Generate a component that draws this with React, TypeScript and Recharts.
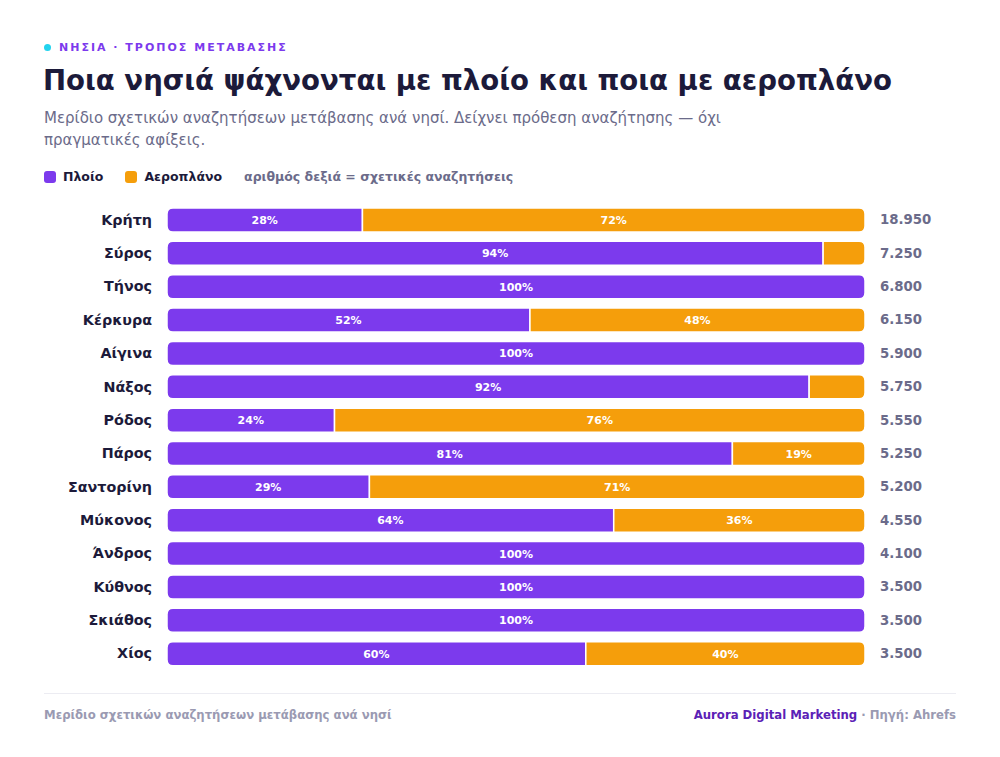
import React from "react";
import { BarChart, Bar, XAxis, YAxis, LabelList } from "recharts";

// island names, boat share %, plane share %, relative searches
const islands = ["Κρήτη", "Σύρος", "Τήνος", "Κέρκυρα", "Αίγινα", "Νάξος", "Ρόδος", "Πάρος", "Σαντορίνη", "Μύκονος", "Άνδρος", "Κύθνος", "Σκιάθος", "Χίος"];
const boatShare = [28, 94, 100, 52, 100, 92, 24, 81, 29, 64, 100, 100, 100, 60];
const planeShare = [72, 6, 0, 48, 0, 8, 76, 19, 71, 36, 0, 0, 0, 40];
const searches = ["18.950", "7.250", "6.800", "6.150", "5.900", "5.750", "5.550", "5.250", "5.200", "4.550", "4.100", "3.500", "3.500", "3.500"];

const PURPLE = "#7c3aed";
const ORANGE = "#f59e0b";
const FONT = "'DejaVu Sans', sans-serif";

const data = islands.map((name, i) => ({
  name,
  boat: boatShare[i],
  plane: planeShare[i],
  total: searches[i],
}));

function roundedPath(x: number, y: number, w: number, h: number, rl: number, rr: number) {
  return `M${x + rl},${y} L${x + w - rr},${y} Q${x + w},${y} ${x + w},${y + rr} L${x + w},${y + h - rr} Q${x + w},${y + h} ${x + w - rr},${y + h} L${x + rl},${y + h} Q${x},${y + h} ${x},${y + h - rl} L${x},${y + rl} Q${x},${y} ${x + rl},${y} Z`;
}

function Segment(props: any) {
  const { x, y, width, height, fill, payload, dataKey } = props;
  if (!width || width <= 0) return null;
  const r = 6;
  const isBoat = dataKey === "boat";
  const rl = isBoat ? r : payload.boat === 0 ? r : 0;
  const rr = isBoat ? (payload.plane === 0 ? r : 0) : r;
  return <path d={roundedPath(x, y, width, height, rl, rr)} fill={fill} stroke="#fff" strokeWidth={1.5} />;
}

function PctLabel(props: any) {
  const { x, y, width, height, value } = props;
  if (value < 10) return null;
  return (
    <text x={x + width / 2} y={y + height / 2 + 4} textAnchor="middle" fill="#fff" fontSize={11} fontWeight={700} fontFamily={FONT}>
      {value}%
    </text>
  );
}

export default function App() {
  return (
    <div style={{ position: "absolute", left: 0, top: 0, width: 1000, height: 757, background: "#fff", fontFamily: FONT }}>
      <div style={{ position: "absolute", left: 44, top: 41, fontSize: 11, fontWeight: 700, letterSpacing: 2, color: PURPLE, display: "flex", alignItems: "center" }}>
        <span style={{ width: 7, height: 7, borderRadius: 4, background: "#22d3ee", marginRight: 8 }} />
        ΝΗΣΙΑ · ΤΡΟΠΟΣ ΜΕΤΑΒΑΣΗΣ
      </div>
      <div style={{ position: "absolute", left: 43, top: 64, fontSize: 27.6, fontWeight: 700, color: "#1c1a3a", whiteSpace: "nowrap" }}>
        Ποια νησιά ψάχνονται με πλοίο και ποια με αεροπλάνο
      </div>
      <div style={{ position: "absolute", left: 44, top: 107, fontSize: 15, lineHeight: "22px", color: "#6b6b8a" }}>
        Μερίδιο σχετικών αναζητήσεων μετάβασης ανά νησί. Δείχνει πρόθεση αναζήτησης — όχι
        <br />
        πραγματικές αφίξεις.
      </div>
      <div style={{ position: "absolute", left: 44, top: 169, fontSize: 12.5, fontWeight: 700, display: "flex", alignItems: "center", color: "#1c1a3a" }}>
        <span style={{ width: 12, height: 12, borderRadius: 3, background: PURPLE, marginRight: 7 }} />
        <span style={{ marginRight: 22 }}>Πλοίο</span>
        <span style={{ width: 12, height: 12, borderRadius: 3, background: ORANGE, marginRight: 7 }} />
        <span style={{ marginRight: 22 }}>Αεροπλάνο</span>
        <span style={{ color: "#6b6b8a" }}>αριθμός δεξιά = σχετικές αναζητήσεις</span>
      </div>

      <div style={{ position: "absolute", left: 0, top: 193 }}>
        <BarChart
          width={1000}
          height={487}
          data={data}
          layout="vertical"
          margin={{ top: 10, right: 0, bottom: 10, left: 0 }}
          barSize={24}
        >
          <XAxis type="number" domain={[0, 100]} hide />
          <YAxis
            yAxisId="left"
            type="category"
            dataKey="name"
            width={167}
            axisLine={false}
            tickLine={false}
            tickSize={0}
            tickMargin={15}
            tick={{ fill: "#1c1a3a", fontSize: 14.3, fontWeight: 700, fontFamily: FONT }}
          />
          <YAxis
            yAxisId="right"
            orientation="right"
            type="category"
            dataKey="name"
            width={135}
            axisLine={false}
            tickLine={false}
            tickSize={0}
            tickMargin={15}
            tickFormatter={(v: string) => data.find((d) => d.name === v)?.total ?? ""}
            tick={{ fill: "#6b6b8a", fontSize: 13.3, fontWeight: 700, fontFamily: FONT, textAnchor: "start" }}
          />
          <Bar yAxisId="left" dataKey="boat" stackId="a" fill={PURPLE} shape={Segment} isAnimationActive={false}>
            <LabelList dataKey="boat" content={PctLabel} />
          </Bar>
          <Bar yAxisId="left" dataKey="plane" stackId="a" fill={ORANGE} shape={Segment} isAnimationActive={false}>
            <LabelList dataKey="plane" content={PctLabel} />
          </Bar>
        </BarChart>
      </div>

      <div style={{ position: "absolute", left: 44, top: 693, width: 912, height: 1, background: "#ececf2" }} />
      <div style={{ position: "absolute", left: 44, top: 708, fontSize: 11.7, fontWeight: 700, color: "#9a9ab2" }}>
        Μερίδιο σχετικών αναζητήσεων μετάβασης ανά νησί
      </div>
      <div style={{ position: "absolute", right: 44, top: 708, fontSize: 11.7, fontWeight: 700, color: "#9a9ab2" }}>
        <span style={{ color: "#5b21b6" }}>Aurora Digital Marketing</span> · Πηγή: Ahrefs
      </div>
    </div>
  );
}
